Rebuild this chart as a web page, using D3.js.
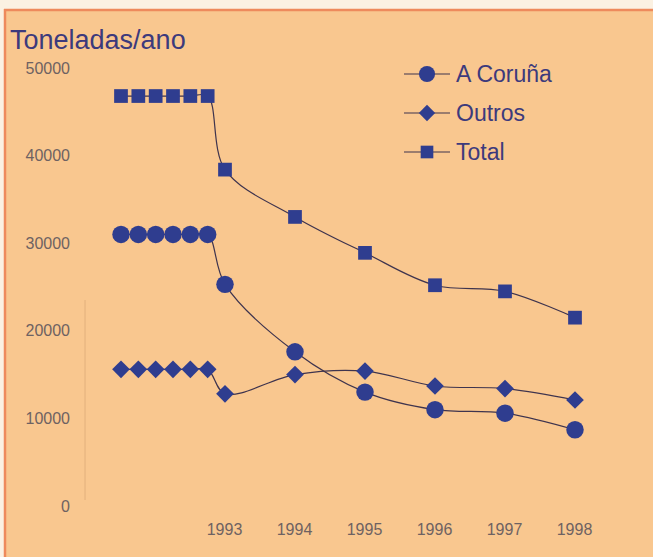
<!DOCTYPE html>
<html>
<head>
<meta charset="utf-8">
<script src="https://cdn.jsdelivr.net/npm/d3@7"></script>
<style>
  body { margin: 0; background: #fbf3e4; }
  svg { display: block; font-family: "Liberation Sans", Arial, sans-serif; }
</style>
</head>
<body>
<div class="chart"></div>
<script>
// Data
const years = [1987, 1988, 1989, 1990, 1991, 1992, 1993, 1994, 1995, 1996, 1997, 1998];
const xLabels = ['1993', '1994', '1995', '1996', '1997', '1998'];
const coruna = [31000, 31000, 31000, 31000, 31000, 31000, 25300, 17600, 13000, 11000, 10600, 8700];
const outros = [15600, 15600, 15600, 15600, 15600, 15600, 12800, 15000, 15400, 13700, 13400, 12100];
const total = [46800, 46800, 46800, 46800, 46800, 46800, 38400, 33000, 28900, 25200, 24500, 21500];
const yTicks = [0, 10000, 20000, 30000, 40000, 50000];
const seriesNames = ['A Coruña', 'Outros', 'Total'];

const svg_width = 653;
const svg_height = 557;

const svg = d3.select('.chart').append('svg')
    .attr('width', svg_width).attr('height', svg_height);

// frame
svg.append('rect').attr('x', 0).attr('y', 0).attr('width', svg_width).attr('height', svg_height)
    .style('fill', '#fbf1e2');
svg.append('rect').attr('x', 4).attr('y', 9).attr('width', svg_width - 4).attr('height', svg_height - 9)
    .style('fill', '#f9c78f');
svg.append('line').attr('x1', 4).attr('x2', svg_width).attr('y1', 10).attr('y2', 10)
    .style('stroke', '#ee8a5c').style('stroke-width', 2.5);
svg.append('line').attr('x1', 5).attr('x2', 5).attr('y1', 9).attr('y2', svg_height)
    .style('stroke', '#ee8a5c').style('stroke-width', 2.5);

// scales: early years squeezed before 1993
const xScale = d3.scaleLinear().domain([1987, 1993, 1998]).range([121, 225, 575]);
const yScale = d3.scaleLinear().domain([0, 50000]).range([506, 68]);

// faint axis line
svg.append('line').attr('x1', 85).attr('x2', 85).attr('y1', 300).attr('y2', 500)
    .style('stroke', '#e2b07c').style('stroke-width', 1);

// y axis labels
const yAxis = d3.axisLeft(yScale).tickValues(yTicks).tickFormat(d3.format('d')).tickSize(0);
const yAxisDraw = svg.append('g').attr('transform', 'translate(70,0)').call(yAxis);
yAxisDraw.select('.domain').remove();
yAxisDraw.selectAll('text')
    .attr('x', 0)
    .style('font-size', '16px').style('fill', '#6e6262')
    .style('font-family', '"Liberation Sans", Arial, sans-serif');

// x axis labels
const xAxis = d3.axisBottom(xScale).tickValues(xLabels.map(Number)).tickFormat(d => String(d)).tickSize(0);
const xAxisDraw = svg.append('g').attr('transform', 'translate(-1,521)').call(xAxis);
xAxisDraw.select('.domain').remove();
xAxisDraw.selectAll('text')
    .style('font-size', '16px').style('fill', '#6e6262')
    .style('font-family', '"Liberation Sans", Arial, sans-serif');

// title
svg.append('text').attr('x', 10).attr('y', 49).text('Toneladas/ano')
    .style('font-size', '27px').style('fill', '#3d3a7c');

// lines
const lineColor = '#3f344e';
const markColor = '#2f3d8f';
const line = d3.line()
    .x((d, i) => xScale(years[i]))
    .y(d => yScale(d))
    .curve(d3.curveCatmullRom.alpha(0.5));

const seriesData = [coruna, outros, total];
const symbols = [d3.symbolCircle, d3.symbolDiamond2, d3.symbolSquare2];
const symbolSizes = [240, 200, 240];

seriesData.forEach((s, k) => {
    svg.append('path').attr('d', line(s))
        .style('fill', 'none').style('stroke', lineColor).style('stroke-width', 1.2);
    svg.append('g').selectAll('path').data(s).join('path')
        .attr('transform', (d, i) => `translate(${xScale(years[i])},${yScale(d)})`)
        .attr('d', d3.symbol().type(symbols[k]).size(symbolSizes[k]))
        .style('fill', markColor);
});

// legend
const legend = svg.append('g').attr('transform', 'translate(404,74)');
seriesNames.forEach((name, k) => {
    const g = legend.append('g').attr('transform', `translate(0,${k * 39})`);
    g.append('line').attr('x1', 0).attr('x2', 46).attr('y1', 0).attr('y2', 0)
        .style('stroke', lineColor).style('stroke-width', 1.2);
    g.append('path').attr('transform', 'translate(23,0)')
        .attr('d', d3.symbol().type(symbols[k]).size(symbolSizes[k] * 0.85))
        .style('fill', markColor);
    g.append('text').attr('x', 52).attr('y', 8).text(name)
        .style('font-size', '23px').style('fill', '#3d3a7c');
});
</script>
</body>
</html>
